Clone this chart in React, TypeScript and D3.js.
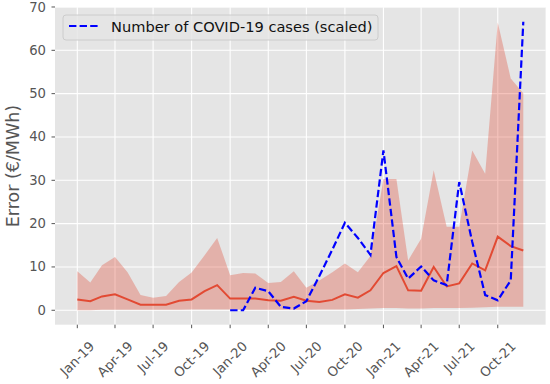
import { useEffect, useRef } from 'react';
import * as d3 from 'd3';

const W = 550;
const H = 384;
const margin = { top: 7.3, right: 4.4, bottom: 59.3, left: 55 };

// monthly points, Jan-19 .. Dec-21
const months = [
  '2019-01', '2019-02', '2019-03', '2019-04', '2019-05', '2019-06',
  '2019-07', '2019-08', '2019-09', '2019-10', '2019-11', '2019-12',
  '2020-01', '2020-02', '2020-03', '2020-04', '2020-05', '2020-06',
  '2020-07', '2020-08', '2020-09', '2020-10', '2020-11', '2020-12',
  '2021-01', '2021-02', '2021-03', '2021-04', '2021-05', '2021-06',
  '2021-07', '2021-08', '2021-09', '2021-10', '2021-11', '2021-12',
];

const meanError = [
  2.5, 2.1, 3.2, 3.7, 2.5, 1.3, 1.3, 1.3, 2.2, 2.5, 4.4, 5.8,
  2.7, 2.7, 2.7, 2.3, 2.2, 3.1, 2.2, 1.9, 2.4, 3.7, 2.9, 4.6,
  8.6, 10.2, 4.6, 4.5, 10.0, 5.5, 6.2, 10.8, 9.2, 17.0, 14.8, 13.8,
];

const upperError = [
  9.0, 6.4, 10.4, 12.3, 8.8, 3.5, 2.9, 3.3, 6.5, 8.7, 12.7, 16.7,
  8.1, 8.6, 8.5, 6.3, 6.5, 9.0, 5.2, 6.9, 8.8, 10.8, 8.8, 12.5,
  30.3, 30.3, 11.5, 16.5, 32.3, 19.3, 19.3, 36.9, 31.5, 66.4, 53.5, 50.1,
];

const lowerError = [
  0.0, 0.0, 0.1, 0.1, 0.1, 0.1, 0.1, 0.1, 0.1, 0.2, 0.2, 0.2,
  0.2, 0.1, 0.1, 0.1, 0.1, 0.1, 0.1, 0.2, 0.2, 0.2, 0.3, 0.4,
  0.5, 0.5, 0.4, 0.4, 0.5, 0.5, 0.5, 0.6, 0.7, 0.8, 0.8, 0.8,
];

const covidCases: (number | null)[] = [
  null, null, null, null, null, null, null, null, null, null, null, null,
  0, 0, 5.2, 4.4, 0.8, 0.4, 2.1, 7.9, 14.0, 20.2, 16.7, 12.8,
  36.9, 12.3, 7.3, 10.1, 6.9, 5.8, 29.6, 15.8, 3.5, 2.3, 6.9, 66.6,
];

const xTickLabels = [
  'Jan-19', 'Apr-19', 'Jul-19', 'Oct-19', 'Jan-20', 'Apr-20',
  'Jul-20', 'Oct-20', 'Jan-21', 'Apr-21', 'Jul-21', 'Oct-21',
];
const yTicks = [0, 10, 20, 30, 40, 50, 60, 70];

const FONT = 'DejaVu Sans, sans-serif';
const RED = '#E24A33';

export default function App() {
  const ref = useRef<SVGSVGElement>(null);

  useEffect(() => {
    const svg = d3.select(ref.current);
    svg.selectAll('*').remove();

    const parse = d3.timeParse('%Y-%m');
    const parseTick = d3.timeParse('%b-%y');
    const dates = months.map(m => parse(m) as Date);
    const tickDates = xTickLabels.map(t => parseTick(t) as Date);

    // matplotlib-like 5% padding
    const t0 = +dates[0];
    const t1 = +dates[dates.length - 1];
    const span = t1 - t0;
    const x = d3.scaleTime()
      .domain([new Date(t0 - span * 0.05), new Date(t1 + span * 0.05)])
      .range([margin.left, W - margin.right]);

    const allVals = [...upperError, ...lowerError, ...meanError,
      ...(covidCases.filter(v => v != null) as number[])];
    const ymin = d3.min(allVals) as number;
    const ymax = d3.max(allVals) as number;
    const pad = (ymax - ymin) * 0.05;
    const y = d3.scaleLinear()
      .domain([ymin - pad, ymax + pad])
      .range([H - margin.bottom, margin.top]);

    const [px0, px1] = x.range();
    const [py1, py0] = y.range();

    svg.append('rect')
      .attr('x', px0).attr('y', py0)
      .attr('width', px1 - px0).attr('height', py1 - py0)
      .attr('fill', '#E5E5E5');

    // grid
    const grid = svg.append('g').attr('stroke', '#ffffff').attr('stroke-width', 1.1);
    grid.selectAll('.gy').data(yTicks).enter().append('line')
      .attr('x1', px0).attr('x2', px1)
      .attr('y1', d => y(d)).attr('y2', d => y(d));
    grid.selectAll('.gx').data(tickDates).enter().append('line')
      .attr('y1', py0).attr('y2', py1)
      .attr('x1', d => x(d)).attr('x2', d => x(d));

    // error band
    const idx = d3.range(dates.length);
    const area = d3.area<number>()
      .x(i => x(dates[i]))
      .y0(i => y(lowerError[i]))
      .y1(i => y(upperError[i]));
    svg.append('path')
      .attr('d', area(idx))
      .attr('fill', RED)
      .attr('fill-opacity', 0.33);

    const meanLine = d3.line<number>()
      .x(i => x(dates[i]))
      .y(i => y(meanError[i]));
    svg.append('path')
      .attr('d', meanLine(idx))
      .attr('fill', 'none')
      .attr('stroke', RED)
      .attr('stroke-width', 2);

    const covidLine = d3.line<number>()
      .defined(i => covidCases[i] != null)
      .x(i => x(dates[i]))
      .y(i => y(covidCases[i] as number));
    svg.append('path')
      .attr('d', covidLine(idx))
      .attr('fill', 'none')
      .attr('stroke', '#0000FF')
      .attr('stroke-width', 2.2)
      .attr('stroke-dasharray', '7.4 3.2');

    const fs = 13.2;

    // y axis
    const yAxis = svg.append('g');
    yAxis.selectAll('line').data(yTicks).enter().append('line')
      .attr('x1', px0 - 3.5).attr('x2', px0)
      .attr('y1', d => y(d)).attr('y2', d => y(d))
      .attr('stroke', '#555555').attr('stroke-width', 1);
    yAxis.selectAll('text').data(yTicks).enter().append('text')
      .attr('x', px0 - 9).attr('y', d => y(d))
      .attr('text-anchor', 'end')
      .attr('dominant-baseline', 'central')
      .attr('font-family', FONT).attr('font-size', fs)
      .attr('fill', '#555555')
      .text(d => d);

    // x axis
    const xAxis = svg.append('g');
    xAxis.selectAll('line').data(tickDates).enter().append('line')
      .attr('x1', d => x(d)).attr('x2', d => x(d))
      .attr('y1', py1).attr('y2', py1 + 3.5)
      .attr('stroke', '#555555').attr('stroke-width', 1);
    const labels = xAxis.selectAll('text').data(tickDates).enter().append('text')
      .attr('text-anchor', 'middle')
      .attr('dominant-baseline', 'central')
      .attr('font-family', FONT).attr('font-size', fs)
      .attr('fill', '#555555')
      .text((d, i) => xTickLabels[i]);
    labels.each(function (d) {
      const el = this as SVGTextElement;
      const len = el.getComputedTextLength();
      const half = (len + fs * 1.1) * Math.SQRT1_2 / 2;
      const cy = py1 + 14 + half;
      d3.select(el).attr('transform', `translate(${x(d)},${cy}) rotate(-45)`);
    });

    // y label
    svg.append('text')
      .attr('transform', `translate(13,${(py0 + py1) / 2}) rotate(-90)`)
      .attr('text-anchor', 'middle')
      .attr('dominant-baseline', 'central')
      .attr('font-family', FONT).attr('font-size', 17.5)
      .attr('fill', '#555555')
      .text('Error (€/MWh)');

    // legend
    const lg = svg.append('g');
    lg.append('rect')
      .attr('x', 63).attr('y', 15).attr('width', 315).attr('height', 25)
      .attr('rx', 3)
      .attr('fill', '#E5E5E5').attr('fill-opacity', 0.85)
      .attr('stroke', '#CCCCCC').attr('stroke-width', 1);
    lg.append('line')
      .attr('x1', 69).attr('x2', 99).attr('y1', 26).attr('y2', 26)
      .attr('stroke', '#0000FF').attr('stroke-width', 2.2)
      .attr('stroke-dasharray', '7.4 3.2');
    lg.append('text')
      .attr('x', 111).attr('y', 26.5)
      .attr('dominant-baseline', 'central')
      .attr('font-family', FONT).attr('font-size', 14.6)
      .attr('fill', '#111111')
      .text('Number of COVID-19 cases (scaled)');
  }, []);

  return (
    <svg
      ref={ref}
      width={W}
      height={H}
      style={{ position: 'fixed', left: 0, top: 0, display: 'block', background: '#ffffff' }}
    />
  );
}
